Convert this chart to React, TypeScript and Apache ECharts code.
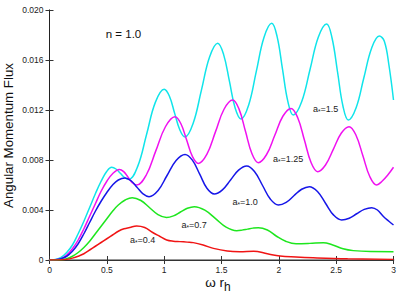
import React, { useEffect, useRef } from "react";
import * as echarts from "echarts";

// a* = 1.5
const xCyan = [0, 0.05, 0.1, 0.15, 0.2, 0.25, 0.3, 0.35, 0.4, 0.45, 0.5, 0.542, 0.58, 0.618, 0.655, 0.693, 0.77, 0.847, 0.923, 1.0, 1.046, 1.091, 1.137, 1.182, 1.253, 1.325, 1.396, 1.467, 1.518, 1.569, 1.619, 1.67, 1.737, 1.804, 1.871, 1.938, 1.985, 2.032, 2.079, 2.126, 2.199, 2.272, 2.344, 2.417, 2.464, 2.512, 2.559, 2.606, 2.674, 2.741, 2.809, 2.876, 2.92, 2.96, 3.0];
const yCyan = [0, 0.00005, 0.0002, 0.0006, 0.0012, 0.0021, 0.0031, 0.0042, 0.0053, 0.0063, 0.0071, 0.00742, 0.00728, 0.00694, 0.0066, 0.00646, 0.00751, 0.01006, 0.01261, 0.01366, 0.0131, 0.01175, 0.0104, 0.00984, 0.01094, 0.01359, 0.01624, 0.01734, 0.01645, 0.01431, 0.01216, 0.01128, 0.0124, 0.01511, 0.01782, 0.01894, 0.01787, 0.01527, 0.01267, 0.0116, 0.01266, 0.01524, 0.01782, 0.01888, 0.01776, 0.01504, 0.01232, 0.0112, 0.01218, 0.01456, 0.01694, 0.01792, 0.0175, 0.0156, 0.0128];
// a* = 1.25
const xMag = [0, 0.05, 0.1, 0.15, 0.2, 0.25, 0.3, 0.35, 0.4, 0.45, 0.5, 0.55, 0.609, 0.647, 0.685, 0.722, 0.76, 0.844, 0.927, 1.011, 1.094, 1.145, 1.196, 1.247, 1.298, 1.373, 1.448, 1.522, 1.597, 1.653, 1.709, 1.765, 1.821, 1.892, 1.964, 2.035, 2.106, 2.164, 2.223, 2.281, 2.339, 2.407, 2.476, 2.544, 2.612, 2.672, 2.733, 2.793, 2.853, 2.9, 2.95, 3.0];
const yMag = [0, 0.00003, 0.0001, 0.0004, 0.0009, 0.0016, 0.0025, 0.0035, 0.0045, 0.0055, 0.0063, 0.0069, 0.00725, 0.00707, 0.00663, 0.00618, 0.006, 0.0068, 0.00873, 0.01066, 0.01146, 0.01092, 0.0096, 0.00827, 0.00773, 0.00847, 0.01027, 0.01206, 0.0128, 0.01207, 0.0103, 0.00852, 0.00779, 0.00842, 0.00996, 0.0115, 0.01213, 0.0114, 0.0096, 0.0078, 0.00707, 0.0076, 0.00887, 0.01014, 0.01067, 0.01, 0.00834, 0.00668, 0.006, 0.0063, 0.0068, 0.00742];
// a* = 1.0
const xBlue = [0, 0.05, 0.1, 0.15, 0.2, 0.25, 0.3, 0.35, 0.4, 0.45, 0.5, 0.55, 0.6, 0.658, 0.711, 0.763, 0.816, 0.868, 0.947, 1.025, 1.104, 1.182, 1.246, 1.31, 1.373, 1.437, 1.508, 1.579, 1.649, 1.72, 1.789, 1.858, 1.927, 1.996, 2.064, 2.131, 2.199, 2.266, 2.337, 2.407, 2.478, 2.548, 2.614, 2.679, 2.745, 2.81, 2.86, 2.91, 2.96, 3.0];
const yBlue = [0, 0.00002, 0.0001, 0.0003, 0.0007, 0.0013, 0.0021, 0.003, 0.0039, 0.0047, 0.0054, 0.006, 0.0064, 0.00656, 0.00634, 0.00582, 0.00529, 0.00507, 0.00556, 0.00676, 0.00796, 0.00845, 0.00799, 0.00687, 0.00574, 0.00528, 0.00561, 0.0064, 0.00719, 0.00752, 0.00706, 0.00596, 0.00486, 0.0044, 0.00461, 0.00514, 0.00566, 0.00587, 0.00548, 0.00454, 0.00359, 0.0032, 0.00334, 0.0037, 0.00405, 0.00419, 0.004, 0.0035, 0.0031, 0.0028];
// a* = 0.7
const xGreen = [0, 0.1, 0.15, 0.2, 0.25, 0.3, 0.35, 0.4, 0.45, 0.5, 0.55, 0.6, 0.66, 0.722, 0.797, 0.871, 0.946, 1.02, 1.081, 1.142, 1.202, 1.263, 1.355, 1.448, 1.54, 1.632, 1.679, 1.727, 1.774, 1.821, 1.9, 1.98, 2.06, 2.15, 2.27, 2.388, 2.47, 2.56, 2.65, 2.8, 3.0];
const yGreen = [0, 0.00002, 0.0001, 0.0003, 0.0006, 0.001, 0.0015, 0.0021, 0.0027, 0.0033, 0.0039, 0.0044, 0.0048, 0.00499, 0.00476, 0.0042, 0.00363, 0.0034, 0.00353, 0.00384, 0.00414, 0.00427, 0.00399, 0.00331, 0.00263, 0.00235, 0.00239, 0.00247, 0.00255, 0.00259, 0.0024, 0.0019, 0.0015, 0.0013, 0.00133, 0.00139, 0.0012, 0.0009, 0.00075, 0.00068, 0.00067];
// a* = 0.4
const xRed = [0, 0.1, 0.15, 0.2, 0.25, 0.3, 0.35, 0.4, 0.45, 0.5, 0.55, 0.6, 0.65, 0.7, 0.76, 0.83, 0.9, 0.96, 1.022, 1.08, 1.138, 1.2, 1.254, 1.34, 1.43, 1.55, 1.66, 1.78, 1.9, 2.01, 2.15, 2.3, 2.6, 3.0];
const yRed = [0, 0.00001, 0.00005, 0.00015, 0.0003, 0.0005, 0.0008, 0.0011, 0.0014, 0.0017, 0.002, 0.0023, 0.0025, 0.0026, 0.00272, 0.0026, 0.0022, 0.0019, 0.0016, 0.0015, 0.00147, 0.00143, 0.00139, 0.0012, 0.00093, 0.00072, 0.00067, 0.0007, 0.0005, 0.00032, 0.00024, 0.00018, 0.0001, 0.00005];

const seriesNames = ["a*=1.5", "a*=1.25", "a*=1.0", "a*=0.7", "a*=0.4"];
const seriesColors = ["#10e4ea", "#f011f0", "#1616e8", "#1ee61e", "#f01414"];
const labelValues = ["1.5", "1.25", "1.0", "0.7", "0.4"];

const FONT = "'Liberation Sans', Arial, Helvetica, sans-serif";

function pairs(xs: number[], ys: number[]) {
  return xs.map((x, i) => [x, ys[i]]);
}

export default function App() {
  const ref = useRef<HTMLDivElement>(null);
  useEffect(() => {
    if (!ref.current) return;
    const chart = echarts.init(ref.current, undefined, { renderer: "svg" });
    const data = [
      pairs(xCyan, yCyan),
      pairs(xMag, yMag),
      pairs(xBlue, yBlue),
      pairs(xGreen, yGreen),
      pairs(xRed, yRed),
    ];
    const labelPos = [
      [313, 109],
      [273, 159],
      [232.5, 201.5],
      [181.5, 224.5],
      [130, 240],
    ];
    const rich = {
      a: { fontSize: 9, fontFamily: FONT, fill: "#222", lineHeight: 12, verticalAlign: "middle" },
      s: { fontSize: 6.5, fontFamily: FONT, fill: "#222", lineHeight: 12, verticalAlign: "bottom" },
    };
    const tickStyle = { inside: true, length: 4, lineStyle: { color: "#333", width: 1 } };
    chart.setOption({
      animation: false,
      backgroundColor: "#ffffff",
      textStyle: { fontFamily: FONT },
      grid: { left: 49.5, right: 13.5, top: 10, bottom: 36, containLabel: false },
      xAxis: [
        {
          type: "value", min: 0, max: 3, interval: 0.5, position: "bottom",
          axisLine: { lineStyle: { color: "#999", width: 2 } },
          axisTick: tickStyle,
          axisLabel: { fontSize: 8.5, color: "#222", margin: 5, fontFamily: FONT },
          splitLine: { show: false },
        },
        {
          type: "value", min: 0, max: 3, interval: 0.5, position: "top",
          axisLine: { lineStyle: { color: "#333", width: 1 } },
          axisTick: tickStyle,
          axisLabel: { show: false },
          splitLine: { show: false },
        },
      ],
      yAxis: [
        {
          type: "value", min: 0, max: 0.02, interval: 0.004, position: "left",
          axisLine: { show: true, lineStyle: { color: "#888", width: 1 } },
          axisTick: { show: true, ...tickStyle },
          axisLabel: {
            fontSize: 8.5, color: "#222", margin: 6, fontFamily: FONT,
            formatter: (v: number) => (v === 0 ? "0" : v.toFixed(3)),
          },
          splitLine: { show: false },
        },
        {
          type: "value", min: 0, max: 0.02, interval: 0.004, position: "right",
          axisLine: { show: true, lineStyle: { color: "#222", width: 1 } },
          axisTick: { show: true, ...tickStyle },
          axisLabel: { show: false },
          splitLine: { show: false },
        },
      ],
      series: data.map((d, i) => ({
        type: "line",
        name: seriesNames[i],
        data: d,
        xAxisIndex: 0,
        yAxisIndex: 0,
        smooth: 0.4,
        showSymbol: false,
        symbol: "none",
        lineStyle: { color: seriesColors[i], width: 1.5 },
        z: 2,
      })),
      graphic: [
        {
          type: "text", x: 123.5, y: 33.5,
          style: { text: "n = 1.0", fontSize: 11.5, fontFamily: FONT, fill: "#111", textAlign: "center", textVerticalAlign: "middle" },
        },
        {
          type: "text", x: 8, y: 135.5, rotation: Math.PI / 2,
          style: { text: "Angular Momentum Flux", fontSize: 13.3, fontFamily: FONT, fill: "#111", textAlign: "center", textVerticalAlign: "middle" },
        },
        {
          type: "text", x: 218, y: 282,
          style: {
            text: "ω r{h|h}", fontSize: 13.5, fontFamily: FONT, fill: "#111", textAlign: "center", textVerticalAlign: "middle",
            rich: {
              h: { fontSize: 12, fontFamily: FONT, fill: "#111", verticalAlign: "bottom", lineHeight: 22 },
            },
            lineHeight: 16,
          },
        },
        ...labelValues.map((v, i) => ({
          type: "text", x: labelPos[i][0], y: labelPos[i][1],
          style: {
            text: "{a|a}{s|*}{a|=" + v + "}",
            textAlign: "left", textVerticalAlign: "middle",
            fontSize: 9, fontFamily: FONT, fill: "#222",
            rich,
          },
        })),
      ],
    });
    return () => chart.dispose();
  }, []);
  return (
    <div
      ref={ref}
      style={{ position: "fixed", left: 0, top: 0, width: 407, height: 296, background: "#fff" }}
    />
  );
}
